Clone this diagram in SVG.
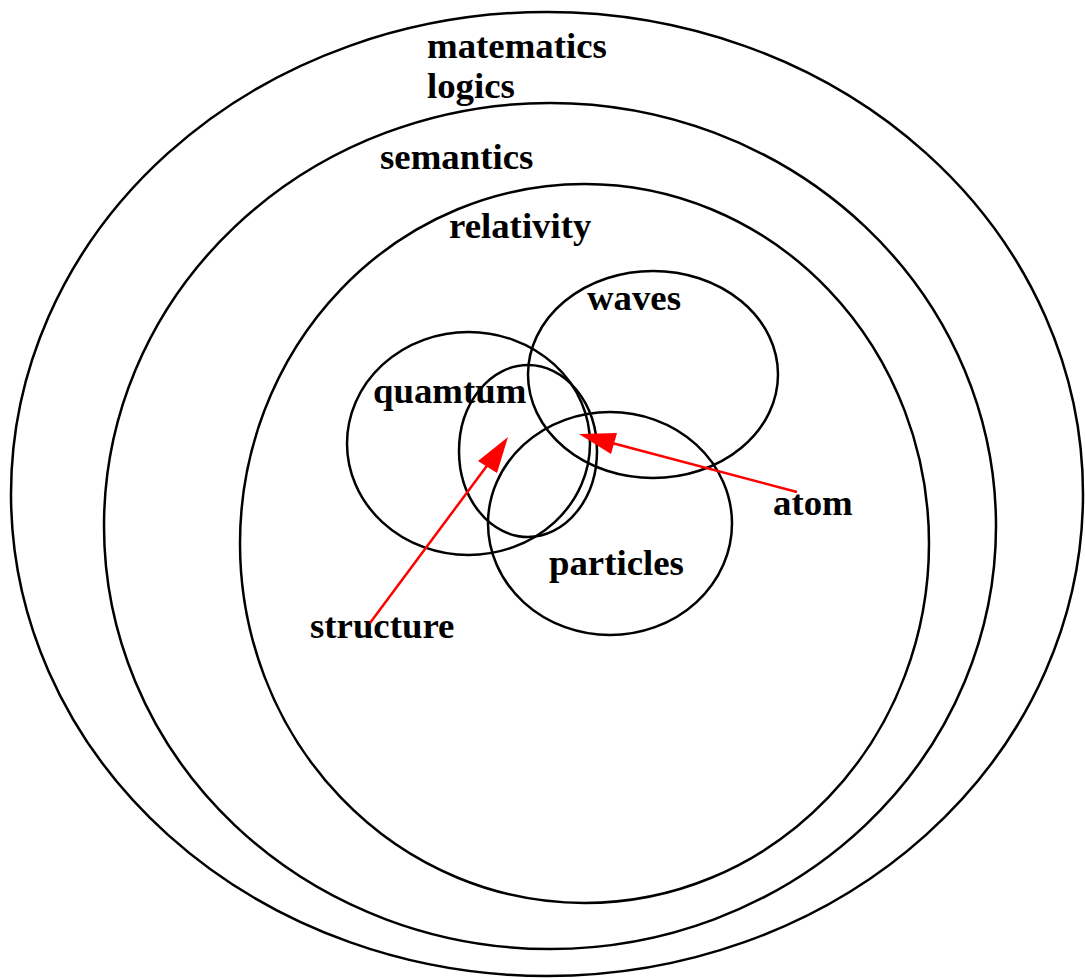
<svg xmlns="http://www.w3.org/2000/svg" width="1085" height="978" viewBox="0 0 1085 978">
<style>
.sh{fill:none;stroke:#000;stroke-width:2.5}
.t{font-family:"Liberation Serif","Times New Roman",serif;font-weight:bold;font-size:36.8px;fill:#000}
.ar{stroke:#f00;stroke-width:2.5;fill:none}
</style>
<rect width="1085" height="978" fill="#fff"/>
<g id="matematics"><ellipse class="sh" cx="547" cy="494" rx="536" ry="482"/><text class="t" x="427" y="58">matematics</text><text class="t" x="427" y="98">logics</text></g>
<g id="semantics"><ellipse class="sh" cx="550" cy="526" rx="446" ry="423"/><text class="t" x="380" y="169">semantics</text></g>
<g id="relativity"><ellipse class="sh" cx="584.5" cy="543.5" rx="344.5" ry="359.5"/><text class="t" x="449" y="238">relativity</text></g>
<g id="waves"><ellipse class="sh" cx="653" cy="374.5" rx="125" ry="103.5"/><text class="t" x="587" y="310">waves</text></g>
<g id="quamtum"><ellipse class="sh" cx="468.5" cy="443.5" rx="121.5" ry="111.5"/><text class="t" x="373" y="403">quamtum</text></g>
<g id="inner"><ellipse class="sh" cx="528" cy="451" rx="69" ry="86"/></g>
<g id="particles"><ellipse class="sh" cx="610" cy="523.5" rx="122" ry="111.5"/><text class="t" x="549" y="575">particles</text></g>
<g id="structure"><text class="t" x="310" y="638">structure</text></g>
<g id="atom"><text class="t" x="773" y="515">atom</text></g>
<g id="connectors">
<line class="ar" x1="370" y1="623" x2="489" y2="463"/>
<polygon fill="#f00" points="508,437 478,461 497,473"/>
<line class="ar" x1="797" y1="492" x2="612" y2="443"/>
<polygon fill="#f00" points="579,434 617,433 611,454"/>
</g>
</svg>
